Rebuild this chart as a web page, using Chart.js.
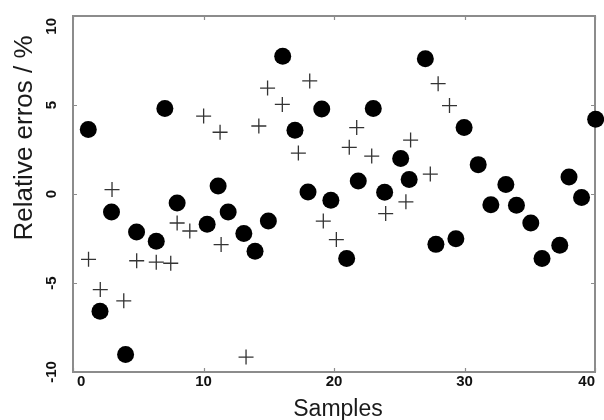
<!DOCTYPE html>
<html><head><meta charset="utf-8">
<script src="https://cdn.jsdelivr.net/npm/chart.js@4/dist/chart.umd.min.js"></script>
<style>html,body{margin:0;padding:0;background:#fff}#wrap{width:604px;height:420px}</style>
</head><body><div id="wrap"><canvas id="c" width="604" height="420"></canvas></div>
<script>
// Data
const circleX = [1.17, 2.07, 2.95, 4.03, 4.87, 6.38, 7.04, 7.98, 10.28, 11.12, 11.89, 13.09, 13.95, 14.97, 16.07, 17.01, 18.01, 19.06, 19.76, 20.97, 21.86, 23.01, 23.88, 25.11, 25.76, 27.0, 27.81, 29.34, 29.97, 31.05, 32.02, 33.17, 33.98, 35.08, 35.94, 37.3, 38.01, 38.97, 40.05];
const circleY = [3.62, -6.59, -1.01, -9.02, -2.13, -2.66, 4.80, -0.51, -1.70, 0.45, -1.01, -2.22, -3.22, -1.52, 7.74, 3.58, 0.11, 4.78, -0.35, -3.63, 0.73, 4.80, 0.10, 1.99, 0.81, 7.60, -2.83, -2.51, 3.73, 1.65, -0.60, 0.53, -0.63, -1.63, -3.63, -2.88, 0.96, -0.20, 4.20];
const plusX = [1.19, 2.09, 2.99, 3.89, 4.88, 6.38, 7.49, 7.98, 8.95, 10.01, 11.27, 11.35, 13.26, 14.24, 14.91, 16.04, 17.27, 18.14, 19.18, 20.18, 21.17, 21.74, 22.89, 23.96, 25.51, 25.87, 27.38, 27.98, 28.85];
const plusY = [-3.67, -5.37, 0.25, -6.0, -3.75, -3.83, -3.89, -1.63, -2.08, 4.38, 3.47, -2.84, -9.16, 3.82, 5.95, 5.03, 2.30, 6.35, -1.52, -2.56, 2.62, 3.73, 2.13, -1.10, -0.44, 3.03, 1.12, 6.20, 4.97];
const xTicks = [0, 10, 20, 30, 40];
const yTicks = [-10, -5, 0, 5, 10];
const xTitle = 'Samples';
const yTitle = 'Relative erros / %';

const toPts = (xs, ys) => xs.map((x, i) => ({x: x, y: ys[i]}));
const FRAME = '#8c8c8c';
const FONT = '"Liberation Sans", Arial, sans-serif';

const axesPlugin = {
  id: 'axesPlugin',
  beforeDatasetsDraw(chart) {
    const {ctx, chartArea: a, scales: {x, y}} = chart;
    ctx.save();
    ctx.strokeStyle = FRAME;
    ctx.lineWidth = 2;
    ctx.strokeRect(a.left, a.top, a.right - a.left, a.bottom - a.top);
    ctx.lineWidth = 1.2;
    ctx.beginPath();
    x.ticks.forEach(t => {
      const px = Math.round(x.getPixelForValue(t.value)) + 0.5;
      ctx.moveTo(px, a.bottom); ctx.lineTo(px, a.bottom - 4);
      ctx.moveTo(px, a.top); ctx.lineTo(px, a.top + 4);
    });
    y.ticks.forEach(t => {
      const py = Math.round(y.getPixelForValue(t.value)) + 0.5;
      ctx.moveTo(a.left, py); ctx.lineTo(a.left + 4, py);
      ctx.moveTo(a.right, py); ctx.lineTo(a.right - 4, py);
    });
    ctx.stroke();

    // tick labels
    ctx.fillStyle = '#111';
    ctx.font = 'bold 15px ' + FONT;
    ctx.textBaseline = 'middle';
    ctx.textAlign = 'center';
    x.ticks.forEach(t => {
      const s = String(t.value);
      const w = ctx.measureText(s).width;
      let px = x.getPixelForValue(t.value);
      px = Math.min(Math.max(px, a.left + 4 + w / 2), a.right - w / 2);
      ctx.fillText(s, px, a.bottom + 10);
    });
    y.ticks.forEach(t => {
      const s = String(t.value);
      const w = ctx.measureText(s).width;
      let py = y.getPixelForValue(t.value);
      py = Math.max(py, a.top + w / 2 + 2);
      ctx.save();
      ctx.translate(a.left - 21, py);
      ctx.rotate(-Math.PI / 2);
      ctx.fillText(s, 0, 0);
      ctx.restore();
    });

    // axis titles
    ctx.fillStyle = '#1a1a1a';
    ctx.font = '23px ' + FONT;
    ctx.textBaseline = 'alphabetic';
    ctx.fillText(xTitle, (a.left + a.right) / 2 + 4, 416);
    ctx.save();
    ctx.font = '26px ' + FONT;
    ctx.translate(32, 138);
    ctx.rotate(-Math.PI / 2);
    ctx.fillText(yTitle, 0, 0);
    ctx.restore();
    ctx.restore();
  }
};

new Chart(document.getElementById('c'), {
  type: 'scatter',
  data: {
    datasets: [
      {label: 'circles', data: toPts(circleX, circleY), pointStyle: 'circle', pointRadius: 8.5,
       backgroundColor: '#000', borderColor: '#000', borderWidth: 0, clip: false},
      {label: 'plus', data: toPts(plusX, plusY), pointStyle: 'cross', pointRadius: 7.5,
       borderColor: '#333', backgroundColor: '#333', borderWidth: 1.3, clip: false}
    ]
  },
  options: {
    responsive: false, devicePixelRatio: 1, animation: false,
    layout: {padding: {left: 73, top: 16, right: 9, bottom: 48}},
    plugins: {legend: {display: false}, tooltip: {enabled: false}},
    events: [],
    scales: {
      x: {type: 'linear', min: 0, max: 40, display: false,
          afterBuildTicks: s => { s.ticks = xTicks.map(v => ({value: v})); }},
      y: {type: 'linear', min: -10, max: 10, display: false,
          afterBuildTicks: s => { s.ticks = yTicks.map(v => ({value: v})); }}
    }
  },
  plugins: [axesPlugin]
});
</script>
</body></html>
